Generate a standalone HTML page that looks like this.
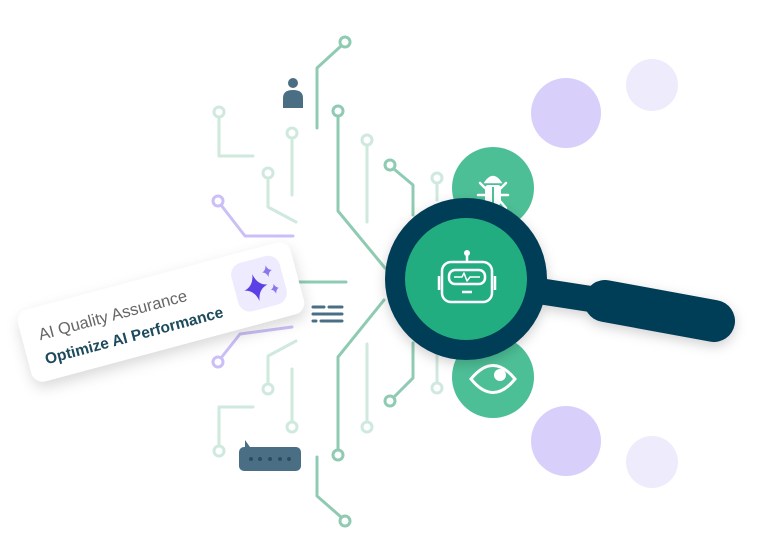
<!DOCTYPE html>
<html><head><style>
html,body{margin:0;padding:0;background:#fff;width:768px;height:556px;overflow:hidden}
</style></head><body>
<svg width="768" height="556" viewBox="0 0 768 556" xmlns="http://www.w3.org/2000/svg" font-family="Liberation Sans, sans-serif">
<defs>
<filter id="sh" x="-20%" y="-40%" width="140%" height="180%"><feDropShadow dx="0" dy="6" stdDeviation="7" flood-color="#000" flood-opacity="0.15"/></filter>
<filter id="sh2" x="-20%" y="-20%" width="140%" height="140%"><feDropShadow dx="0" dy="4" stdDeviation="6" flood-color="#000" flood-opacity="0.18"/></filter>
</defs>
<circle cx="566" cy="113" r="35" fill="#d8cffb"/>
<circle cx="652" cy="85" r="26" fill="#eeebfd"/>
<circle cx="566" cy="441" r="35" fill="#d8cffb"/>
<circle cx="652" cy="462" r="26" fill="#eeebfd"/>
<g fill="none" stroke-width="3" stroke-linecap="round" stroke-linejoin="round">
<g stroke="#8fcbb2">
<path d="M341 46 L317 68 L317 128"/><circle cx="345" cy="42" r="5"/>
<path d="M338 116 L338 211 L385 268"/><circle cx="338" cy="111" r="5"/>
<path d="M394 169 L413 185 L413 215"/><circle cx="390" cy="165" r="5"/>
<path d="M384 300 L338 357 L338 450"/><circle cx="338" cy="455" r="5"/>
<path d="M413 343 L413 378 L394 397"/><circle cx="390" cy="401" r="5"/>
<path d="M317 457 L317 496 L341 517"/><circle cx="345" cy="521" r="5"/>
<path d="M297 282 L346 282"/>
</g>
<g stroke="#cfe9de">
<path d="M219 117 L219 156 L253 156"/><circle cx="219" cy="112" r="5"/>
<path d="M292 138 L292 195"/><circle cx="292" cy="133" r="5"/>
<path d="M268 178 L268 207 L296 222"/><circle cx="268" cy="173" r="5"/>
<path d="M367 145 L367 222"/><circle cx="367" cy="140" r="5"/>
<path d="M437 183 L437 200"/><circle cx="437" cy="178" r="5"/>
<path d="M367 344 L367 422"/><circle cx="367" cy="427" r="5"/>
<path d="M437 350 L437 383"/><circle cx="437" cy="388" r="5"/>
<path d="M296 341 L268 356 L268 384"/><circle cx="268" cy="389" r="5"/>
<path d="M292 369 L292 422"/><circle cx="292" cy="427" r="5"/>
<path d="M253 407 L219 407 L219 446"/><circle cx="219" cy="451" r="5"/>
</g>
<g stroke="#cbbff7">
<path d="M221 205 L245 236 L293 236"/><circle cx="218" cy="201" r="5"/>
<path d="M292 327 L240 334 L221 358"/><circle cx="218" cy="362" r="5"/>
</g>
</g>
<g fill="#4a6f85">
<circle cx="293" cy="83" r="5"/>
<path d="M283 108 L283 98 Q283 90 293 90 Q303 90 303 98 L303 108 Z"/>
</g>
<g stroke="#4a6f85" stroke-width="3" stroke-linecap="round">
<line x1="313" y1="307" x2="324" y2="307"/><line x1="329" y1="307" x2="342" y2="307"/>
<line x1="313" y1="314" x2="342" y2="314"/>
<line x1="313" y1="321" x2="316" y2="321"/><line x1="321" y1="321" x2="342" y2="321"/>
</g>
<g fill="#4a6f85">
<path d="M245 440 L250 447 L245 448 Z"/>
<rect x="239" y="447" width="62" height="24" rx="5"/>
</g>
<g fill="#2c4d60"><circle cx="251" cy="459" r="2"/><circle cx="260" cy="459" r="2"/><circle cx="270" cy="459" r="2"/><circle cx="280" cy="459" r="2"/><circle cx="289" cy="459" r="2"/></g>
<circle cx="493" cy="188" r="41" fill="#4dbf97"/>
<circle cx="493" cy="377" r="41" fill="#4dbf97"/>
<g fill="#fff" stroke="#fff" stroke-width="2.5" stroke-linecap="round">
<path d="M486 182 Q493 172 500 182 Z"/>
<rect x="485" y="185" width="16" height="20" rx="3" stroke="none"/>
<line x1="480" y1="183" x2="485" y2="188" fill="none"/><line x1="506" y1="183" x2="501" y2="188" fill="none"/>
<line x1="478" y1="195" x2="485" y2="195"/><line x1="501" y1="195" x2="508" y2="195"/>
<line x1="480" y1="208" x2="485" y2="202"/><line x1="506" y1="208" x2="501" y2="202"/>
</g>
<line x1="493" y1="187" x2="493" y2="204" stroke="#4dbf97" stroke-width="2"/>
<path d="M471 379 Q493 352 515 379 Q493 406 471 379 Z" fill="none" stroke="#fff" stroke-width="3"/>
<circle cx="500" cy="375" r="6" fill="#fff"/>
<g filter="url(#sh2)">
<line x1="500" y1="285" x2="610" y2="302" stroke="#053c57" stroke-width="26"/>
<line x1="605" y1="301" x2="714" y2="321" stroke="#053c57" stroke-width="42" stroke-linecap="round"/>
<circle cx="466" cy="279" r="81" fill="#053c57"/>
</g>
<circle cx="466" cy="279" r="61" fill="#22ad80"/>
<g fill="none" stroke="#fff" stroke-width="2.5" stroke-linejoin="round">
<rect x="442" y="262" width="50" height="40" rx="9"/>
<rect x="449" y="270" width="36" height="14" rx="6"/>
<path d="M439 276 L439 290 M495 276 L495 290"/>
<line x1="467" y1="262" x2="467" y2="255"/>
<path d="M454 277 L462 277 L464 273 L467 281 L470 277 L480 277" stroke-width="1.5"/>
<line x1="462" y1="292" x2="472" y2="292"/>
</g>
<circle cx="467" cy="253" r="3" fill="#fff"/>
<g transform="translate(161,312) rotate(-15)">
<rect x="-141" y="-37" width="282" height="74" rx="12" fill="#fff" filter="url(#sh)"/>
<text x="-124" y="-4" font-size="16.5" fill="#666">AI Quality Assurance</text>
<text x="-124" y="21" font-size="15.5" font-weight="bold" fill="#1d4a5c">Optimize AI Performance</text>
<rect x="77" y="-27" width="50" height="50" rx="12" fill="#efebfe"/>
<path d="M98 -13 Q100 -1 110 1 Q100 3 98 15 Q96 3 86 1 Q96 -1 98 -13 Z" fill="#5a41e6"/>
<path d="M113 -18 Q114 -13 118 -12 Q114 -11 113 -6 Q112 -11 108 -12 Q112 -13 113 -18 Z" fill="#8a76ee"/>
<path d="M116 2 Q117 6 120 7 Q117 8 116 12 Q115 8 112 7 Q115 6 116 2 Z" fill="#8a76ee"/>
</g>
</svg>
</body></html>
